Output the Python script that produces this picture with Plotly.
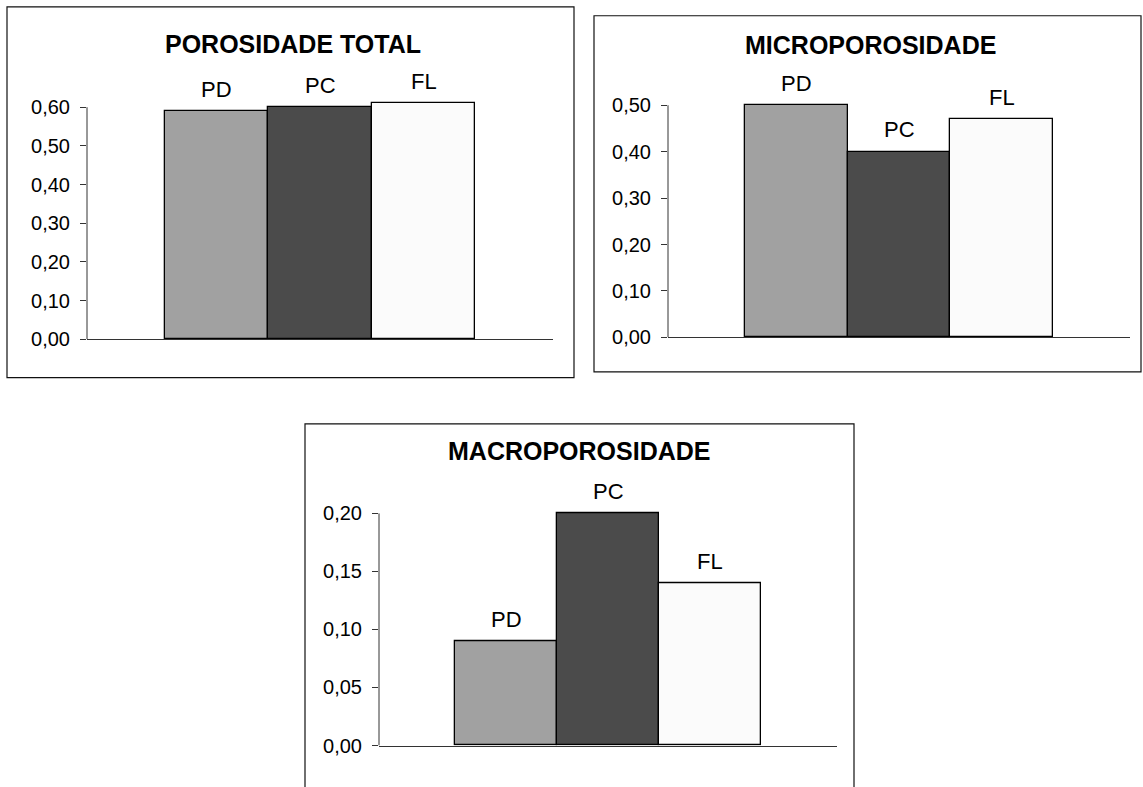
import plotly.graph_objects as go

# ---- data -------------------------------------------------------------
categories = ["PD", "PC", "FL"]
bar_colors = ["#A1A1A1", "#4B4B4B", "#FBFBFB"]

total_porosity = [0.59, 0.60, 0.61]
micro_porosity = [0.50, 0.40, 0.47]
macro_porosity = [0.09, 0.20, 0.14]

titles = ["POROSIDADE TOTAL", "MICROPOROSIDADE", "MACROPOROSIDADE"]
tick_values = [
    [0.0, 0.1, 0.2, 0.3, 0.4, 0.5, 0.6],
    [0.0, 0.1, 0.2, 0.3, 0.4, 0.5],
    [0.0, 0.05, 0.10, 0.15, 0.20],
]
series = [total_porosity, micro_porosity, macro_porosity]

# ---- page geometry (pixels) ------------------------------------------
W, H = 1143, 787
FONT = "Liberation Sans, Arial, sans-serif"

# plot area: left, right, y of zero, y of top tick; frame box; title centre
panels = [
    dict(left=87, right=553, zero=343, top=107, box=(7, 5, 574, 382), title=(293, 43)),
    dict(left=668, right=1130, zero=341, top=105, box=(594, 14, 1141, 376), title=(870, 44)),
    dict(left=379, right=837, zero=756, top=520, box=(305, 429, 854, 800), title=(579, 457)),
]


def px_x(v):
    return v / W


def px_y(v):
    return 1 - v / H


fig = go.Figure()
shapes = []
annotations = []
layout_axes = {}

for i, (p, values, ticks, title) in enumerate(zip(panels, series, tick_values, titles)):
    n = "" if i == 0 else str(i + 1)
    xa, ya = "x" + n, "y" + n

    tick_max = ticks[-1]
    px_per_unit = (p["zero"] - p["top"]) / tick_max
    head = 0.04 * tick_max
    range_top = tick_max + head
    top_px = p["zero"] - range_top * px_per_unit

    fig.add_trace(go.Bar(
        x=categories, y=values, width=1,
        marker=dict(color=bar_colors, line=dict(color="#000000", width=1.3)),
        xaxis=xa, yaxis=ya, showlegend=False, hoverinfo="x+y",
    ))

    layout_axes["xaxis" + n] = dict(
        domain=[px_x(p["left"]), px_x(p["right"])],
        anchor=ya, range=[-1.25, 3.25], type="category",
        showticklabels=False, ticks="", showgrid=False, zeroline=False,
        showline=True, linecolor="#333333", linewidth=1, fixedrange=True,
    )
    layout_axes["yaxis" + n] = dict(
        domain=[px_y(p["zero"]), px_y(top_px)],
        anchor=xa, range=[0, range_top],
        tickvals=ticks, tickformat=".2f",
        ticks="outside", ticklen=6, tickwidth=1, tickcolor="#333333",
        ticklabelstandoff=6,
        tickfont=dict(size=20, color="#000000", family=FONT),
        showline=False, showgrid=False, zeroline=False, fixedrange=True,
    )

    # value axis line, running from zero up to the last tick
    shapes.append(dict(
        type="line", xref=xa + " domain", yref=ya,
        x0=0, x1=0, y0=0, y1=tick_max,
        line=dict(color="#333333", width=1),
    ))

    # frame around the panel
    bx0, by0, bx1, by1 = p["box"]
    shapes.append(dict(
        type="rect", xref="paper", yref="paper",
        x0=px_x(bx0), x1=px_x(bx1), y0=px_y(by1), y1=px_y(by0),
        line=dict(color="#111111", width=1.2), fillcolor="rgba(0,0,0,0)",
    ))

    # panel title
    tx, ty = p["title"]
    annotations.append(dict(
        text="<b>%s</b>" % title, xref="paper", yref="paper",
        x=px_x(tx), y=px_y(ty), xanchor="center", yanchor="middle",
        showarrow=False, font=dict(size=25, color="#000000", family=FONT),
    ))

    # series name above each bar
    for cat, val in zip(categories, values):
        annotations.append(dict(
            text=cat, xref=xa, yref=ya, x=cat, y=val, yshift=22,
            xanchor="center", yanchor="middle", showarrow=False,
            font=dict(size=22, color="#000000", family=FONT),
        ))

fig.update_layout(
    width=W, height=H,
    margin=dict(l=0, r=0, t=0, b=0),
    paper_bgcolor="#FFFFFF", plot_bgcolor="rgba(0,0,0,0)",
    separators=",.",
    font=dict(family=FONT, color="#000000"),
    bargap=0,
    shapes=shapes,
    annotations=annotations,
    **layout_axes,
)

fig.write_html("out.html")
